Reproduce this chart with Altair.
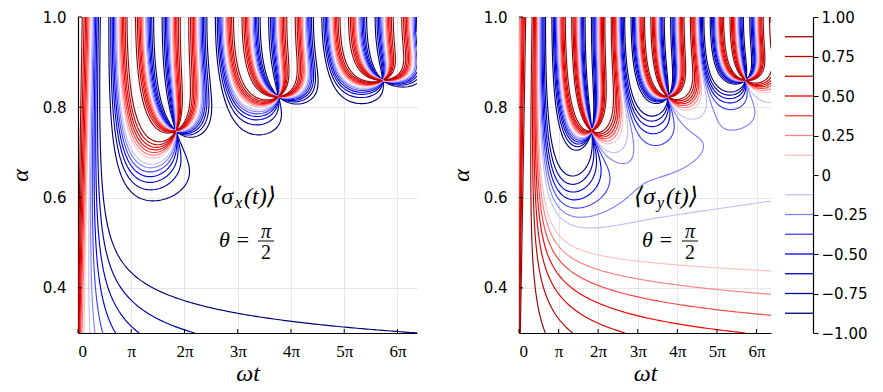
import math
from itertools import combinations
from collections import defaultdict

import numpy as np
import pandas as pd
import altair as alt

# ------------------------------------------------------------------ data / parameters
T_MAX = 20.0                       # omega*t from 0 to 20 (about 6.37 pi)
ALPHA_RANGE = [0.3, 1.0]
LEVELS = [-0.875, -0.75, -0.625, -0.5, -0.375, -0.25, -0.125,
          0.125, 0.25, 0.375, 0.5, 0.625, 0.75, 0.875]
LEVEL_COLORS = ["#000079", "#0000a6", "#0000d2", "#0000ff", "#4040ff", "#8080ff", "#bfbfff",
                "#ffbfbf", "#ff8080", "#ff4040", "#ff0000", "#df0000", "#bf0000", "#9f0000"]
X_TICKS = [k * math.pi for k in range(7)]
X_TICK_LABELS = ["0", "π", "2π", "3π", "4π", "5π", "6π"]
Y_TICKS = [0.4, 0.6, 0.8, 1.0]
CBAR_TICKS = [-1.0, -0.75, -0.5, -0.25, 0.0, 0.25, 0.5, 0.75, 1.0]
PANEL_NAMES = ["x", "y"]

# ------------------------------------------------------------------ field on a grid
NT, NA = 520, 300
t_grid = T_MAX * np.linspace(0.0, 1.0, NT) ** 2
a_grid = np.linspace(ALPHA_RANGE[0], ALPHA_RANGE[1], NA)


def mittag_leffler(t, alphas):
    """E_alpha(-i t^alpha) for every (alpha, t) in the grid -> real, imag parts."""
    logt = np.log(np.maximum(t, 1e-300))
    R = np.empty((len(alphas), len(t)))
    I = np.empty_like(R)
    for j, a in enumerate(alphas):
        K = int(110 / a) + 10
        k = np.arange(K)
        lg = np.array([math.lgamma(a * kk + 1.0) for kk in k])
        with np.errstate(under="ignore"):
            mag = np.exp(np.outer(logt, a * k) - lg[None, :])
        r4 = k % 4
        cr = np.select([r4 == 0, r4 == 2], [1.0, -1.0], 0.0)
        ci = np.select([r4 == 1, r4 == 3], [-1.0, 1.0], 0.0)
        R[j] = mag @ cr
        I[j] = mag @ ci
    return R, I


R, I = mittag_leffler(t_grid, a_grid)
N2 = R ** 2 + I ** 2
FIELDS = {"x": (R ** 2 - I ** 2) / N2, "y": -2.0 * R * I / N2}


# ------------------------------------------------------------------ marching squares
def contour_paths(F, xs, ys, level):
    ny, nx = F.shape
    B = F > level
    with np.errstate(divide="ignore", invalid="ignore"):
        fa, fb = F[:, :-1], F[:, 1:]
        hfr = (level - fa) / (fb - fa)
        hx = xs[:-1][None, :] + hfr * (xs[1:] - xs[:-1])[None, :]
        hy = np.broadcast_to(ys[:, None], hx.shape)
        fc, fd = F[:-1, :], F[1:, :]
        vfr = (level - fc) / (fd - fc)
        vy = ys[:-1][:, None] + vfr * (ys[1:] - ys[:-1])[:, None]
        vx = np.broadcast_to(xs[None, :], vy.shape)
    hc = B[:, :-1] != B[:, 1:]
    vc = B[:-1, :] != B[1:, :]
    nh = ny * (nx - 1)
    hid = np.arange(nh).reshape(ny, nx - 1)
    vid = nh + np.arange((ny - 1) * nx).reshape(ny - 1, nx)
    allx = np.concatenate([hx.ravel(), vx.ravel()])
    ally = np.concatenate([hy.ravel(), vy.ravel()])
    flags = [hc[:-1, :], vc[:, 1:], hc[1:, :], vc[:, :-1]]
    ids = [hid[:-1, :], vid[:, 1:], hid[1:, :], vid[:, :-1]]
    n = sum(f.astype(int) for f in flags)
    segs = []
    for p, q in combinations(range(4), 2):
        m = (n == 2) & flags[p] & flags[q]
        segs.append(np.stack([ids[p][m], ids[q][m]], 1))
    m4 = n == 4
    if m4.any():
        center = (F[:-1, :-1] + F[:-1, 1:] + F[1:, 1:] + F[1:, :-1]) / 4
        ca = (center > level) == B[:-1, :-1]
        for mm, pairs in ((m4 & ca, [(0, 1), (2, 3)]), (m4 & ~ca, [(3, 0), (1, 2)])):
            for p, q in pairs:
                segs.append(np.stack([ids[p][mm], ids[q][mm]], 1))
    segs = np.concatenate(segs, 0).tolist()
    adj = defaultdict(list)
    for p, q in segs:
        adj[p].append(q)
        adj[q].append(p)
    visited = set()

    def walk(start):
        path = [start]
        visited.add(start)
        cur = start
        while True:
            nxt = None
            for nb in adj[cur]:
                if nb not in visited:
                    nxt = nb
                    break
            if nxt is None:
                if len(path) > 2 and start in adj[cur]:
                    path.append(start)
                break
            path.append(nxt)
            visited.add(nxt)
            cur = nxt
        return path

    paths = []
    for node in list(adj.keys()):
        if len(adj[node]) == 1 and node not in visited:
            paths.append(walk(node))
    for node in list(adj.keys()):
        if node not in visited:
            paths.append(walk(node))
    return [(allx[p], ally[p]) for p in paths]


def contour_table(F, width, height):
    rows = {"lvl": [], "pid": [], "ord": [], "t": [], "a": []}
    pid = 0
    for lvl in LEVELS:
        for px, py in contour_paths(F, t_grid, a_grid, lvl):
            sx = px / T_MAX * width
            sy = (py - ALPHA_RANGE[0]) / (ALPHA_RANGE[1] - ALPHA_RANGE[0]) * height
            keep = [0]
            for i in range(1, len(px)):
                if math.hypot(sx[i] - sx[keep[-1]], sy[i] - sy[keep[-1]]) >= 1.4 or i == len(px) - 1:
                    keep.append(i)
            if len(keep) < 2:
                continue
            for o, i in enumerate(keep):
                rows["lvl"].append(lvl)
                rows["pid"].append(pid)
                rows["ord"].append(o)
                rows["t"].append(round(float(px[i]), 4))
                rows["a"].append(round(float(py[i]), 5))
            pid += 1
    return pd.DataFrame(rows)


# ------------------------------------------------------------------ chart
H = 316
WIDTHS = {"x": 339, "y": 252}
SERIF = "Liberation Serif, DejaVu Serif"
SANS = "DejaVu Sans"
X_LABEL_EXPR = "[" + ",".join(f"'{s}'" for s in X_TICK_LABELS) + "][round(datum.value / PI)]"

x_scale = alt.Scale(domain=[0, T_MAX], nice=False, zero=False)
y_scale = alt.Scale(domain=ALPHA_RANGE, nice=False, zero=False)

x_axis = alt.Axis(values=X_TICKS, labelExpr=X_LABEL_EXPR, title="ωt",
                  labelFont=SERIF, labelFontSize=17, labelColor="black",
                  titleFont=SERIF, titleFontSize=24, titleFontStyle="italic",
                  titleFontWeight="normal", titleColor="black", titlePadding=2,
                  ticks=False, tickSize=0, labelPadding=10,
                  domainColor="black", domainWidth=1.2,
                  gridColor="#e6e6e6", gridWidth=1)
y_axis = alt.Axis(values=Y_TICKS, format=".1f", title="α",
                  labelFont=SANS, labelFontSize=15, labelColor="black",
                  titleFont=SERIF, titleFontSize=24, titleFontStyle="italic",
                  titleFontWeight="normal", titleColor="black", titlePadding=10,
                  ticks=False, tickSize=0, labelPadding=12,
                  domainColor="black", domainWidth=1.2,
                  gridColor="#e6e6e6", gridWidth=1)


def one(text_value):
    return pd.DataFrame({"s": [text_value]})


def label(text, x, y, size, italic=True, align="left"):
    return alt.Chart(one(text)).mark_text(
        align=align, baseline="middle", font=SERIF, fontSize=size,
        fontStyle="italic" if italic else "normal", color="black"
    ).encode(x=alt.value(x), y=alt.value(y), text="s:N")


def panel(name, ann):
    W = WIDTHS[name]
    df = contour_table(FIELDS[name], W, H)
    lines = alt.Chart(df).mark_line(strokeWidth=1.15, clip=True).encode(
        x=alt.X("t:Q", scale=x_scale, axis=x_axis),
        y=alt.Y("a:Q", scale=y_scale, axis=y_axis),
        detail="pid:N",
        order="ord:Q",
        color=alt.Color("lvl:N", scale=alt.Scale(domain=LEVELS, range=LEVEL_COLORS), legend=None),
    )
    xt = alt.Chart(pd.DataFrame({"t": X_TICKS})).mark_rule(color="black").encode(
        x=alt.X("t:Q", scale=x_scale, axis=x_axis), y=alt.value(H), y2=alt.value(H - 4))
    yt = alt.Chart(pd.DataFrame({"a": Y_TICKS})).mark_rule(color="black").encode(
        y=alt.Y("a:Q", scale=y_scale, axis=y_axis), x=alt.value(0), x2=alt.value(4))
    x0, yc, th_x, fr_x = ann
    layers = [lines, xt, yt,
              label("⟨σ", x0, yc, 24),
              label(name, x0 + 23, yc + 6, 16),
              label("(t)⟩", x0 + 32, yc, 24),
              label("θ =", th_x, 223, 22),
              label("π", fr_x, 215, 20, align="center"),
              label("2", fr_x, 236, 20, italic=False, align="center"),
              alt.Chart(one("")).mark_rule(color="black", strokeWidth=1).encode(
                  x=alt.value(fr_x - 8), x2=alt.value(fr_x + 8), y=alt.value(224))]
    return alt.layer(*layers).properties(width=W, height=H)


p1 = panel("x", (134, 180, 141, 188))
p2 = panel("y", (115, 180, 123, 171))

cbar = alt.Chart(pd.DataFrame({"lvl": LEVELS, "c": LEVEL_COLORS})).mark_rule(strokeWidth=1.3).encode(
    x=alt.value(0), x2=alt.value(28),
    y=alt.Y("lvl:Q", scale=alt.Scale(domain=[-1, 1], nice=False),
            axis=alt.Axis(orient="right", values=CBAR_TICKS, title=None,
                          labelExpr="datum.value == 0 ? '0' : format(datum.value, '.2f')",
                          labelFont=SANS, labelFontSize=15, labelColor="black",
                          tickSize=5, tickColor="black", labelPadding=3,
                          domainColor="black", domainWidth=1.2, grid=False)),
    color=alt.Color("c:N", scale=None),
).properties(width=28, height=H)

chart = alt.hconcat(alt.hconcat(p1, p2, spacing=32), cbar, spacing=13).properties(
    padding={"left": 0, "top": 2, "right": 0, "bottom": 0},
    background="white",
).configure_view(stroke=None)

chart.save("out.html", embed_options={"renderer": "svg", "actions": False})
